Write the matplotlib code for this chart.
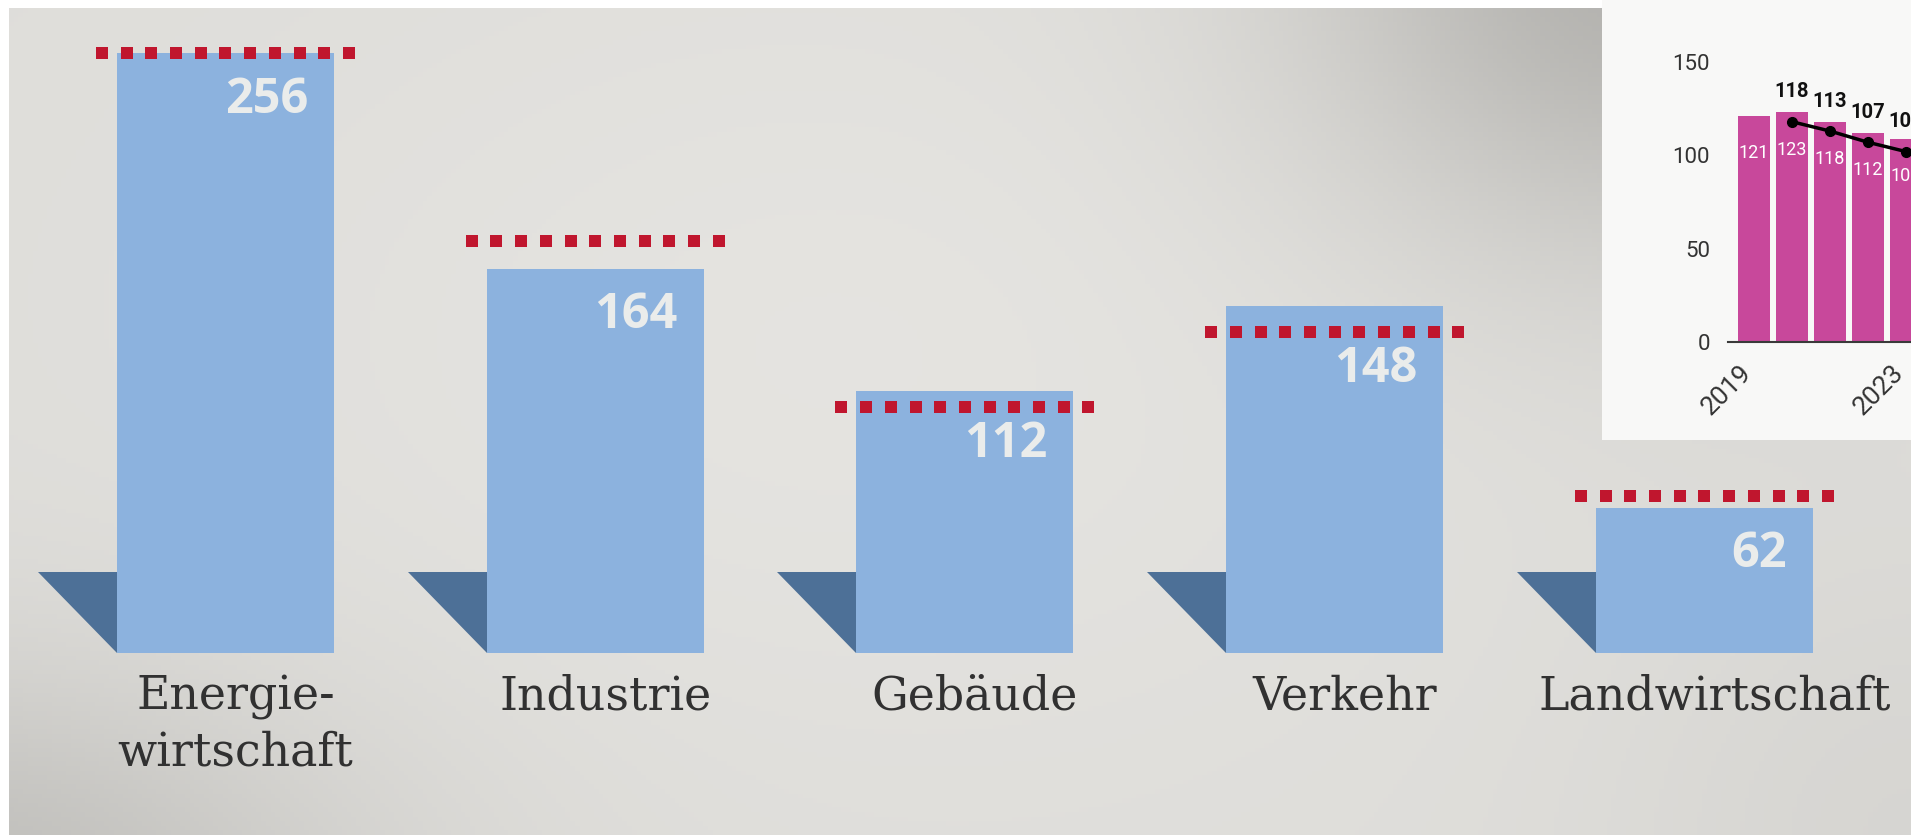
import numpy as np
import matplotlib
matplotlib.use("Agg")
import matplotlib.pyplot as plt
import matplotlib.transforms as mtransforms
from matplotlib.patches import Polygon, Rectangle

# ---- data -------------------------------------------------------------
sectors = ["Energie-\nwirtschaft", "Industrie", "Gebäude", "Verkehr", "Landwirtschaft"]
emissions = [256, 164, 112, 148, 62]          # Mio. t CO2-Äq.
targets = [256, 176, 105, 137, 67]            # zulässige Jahresemissionen

years = [2019, 2020, 2021, 2022, 2023]
building_actual = [121, 123, 118, 112, 109]
target_years = [2020, 2021, 2022, 2023]
building_target = [118, 113, 107, 102]
year_ticks = [2019, 2023]
inset_yticks = [0, 50, 100, 150]

# ---- figure geometry (pixels) ----------------------------------------
W, H, DPI = 1911, 835, 100
fig = plt.figure(figsize=(W / DPI, H / DPI), dpi=DPI, facecolor="white")

left_px, top_px = 9, 8
frame = [left_px / W, 0, 1 - left_px / W, (H - top_px) / H]

# soft grey paper background with darker corners
bg = fig.add_axes(frame, zorder=-1)
xx, yy = np.meshgrid(np.linspace(left_px, W, 400), np.linspace(top_px, H, 180))
v = 0.868 * np.ones_like(xx)
v += 0.025 * np.exp(-(((xx - 850) / 650) ** 2 + ((yy - 350) / 420) ** 2))
v -= 0.17 * np.exp(-(((xx - 1640) / 330) ** 2 + ((yy + 40) / 290) ** 2))
v -= 0.12 * np.exp(-(((xx + 60) / 420) ** 2 + ((yy - 900) / 230) ** 2))
v -= 0.03 * np.exp(-(((xx - 1911) / 300) ** 2 + ((yy - 835) / 300) ** 2))
rgb = np.dstack([v + 0.004, v, v - 0.014]).clip(0, 1)
bg.imshow(rgb, aspect="auto", extent=(0, 1, 0, 1), origin="upper")
bg.set_axis_off()

# ---- main bar chart --------------------------------------------------
ax = fig.add_axes(frame, zorder=0)
ax.set_facecolor("none")
ax.set_axis_off()

ppu = 600 / 256          # pixels per emission unit
spacing = 369.75         # pixels per category
first_center = 225.5
base_px = 653
ax.set_ylim(-(H - base_px) / ppu, (base_px - top_px) / ppu)
ax.set_xlim((left_px - first_center) / spacing, (W - first_center) / spacing)

x = np.arange(len(sectors))
bar_w = 217 / spacing
ax.bar(x, emissions, width=bar_w, color="#8cb2de", zorder=3)

shadow_w = 79 / spacing
shadow_h = 81 / ppu
for xi in x:
    lft = xi - bar_w / 2
    ax.add_patch(Polygon([(lft - shadow_w, shadow_h), (lft, shadow_h), (lft, 0)],
                         closed=True, facecolor="#4d7097", edgecolor="none", zorder=2))

offsets = np.linspace(-123.5, 123.5, 11) / spacing
for xi, t in zip(x, targets):
    ax.plot(xi + offsets, np.full(offsets.size, t), ls="none", marker="s",
            ms=8.2, mew=0, color="#c0162e", zorder=4)

for xi, val, t in zip(x, emissions, targets):
    yb = t - 21.5 if t < val else val - 25.5
    ax.text(xi + bar_w / 2 - 26 / spacing, yb, str(val), ha="right", va="baseline",
            fontsize=35, fontweight="bold", family="Open Sans", color="#eaeceb", zorder=5)

line_px = 55
for xi, lab in zip(x, sectors):
    n_lines = lab.count("\n")
    ax.text(xi + 10 / spacing, -(710 + n_lines * line_px - base_px) / ppu, lab,
            ha="center", va="baseline", fontsize=33, family="DejaVu Serif",
            color="#313131", linespacing=1.28, zorder=5)

# ---- inset: Gebäude sector over time ----------------------------------
box_left, box_bottom = 1602, 440
fig.add_artist(Rectangle((box_left / W, (H - box_bottom) / H), (W - box_left) / W,
                         box_bottom / H, transform=fig.transFigure,
                         facecolor="#f8f8f7", edgecolor="none", zorder=1))

ax_l, ax_b, ax_t = 1728, 342, 40
ipx = (342 - 62) / 150          # pixels per unit in inset
step = 38
c0 = 1754
ia = fig.add_axes([ax_l / W, (H - ax_b) / H, (W - ax_l) / W, (ax_b - ax_t) / H], zorder=2)
ia.set_facecolor("none")
ia.set_xlim(-(c0 - ax_l) / step, (W - c0) / step)
ia.set_ylim(0, (ax_b - ax_t) / ipx)

xi_years = np.array(years) - years[0]
xi_tgt = np.array(target_years) - years[0]
ia.bar(xi_years, building_actual, width=32 / step, color="#c8489b", zorder=2)
ia.plot(xi_tgt, building_target, color="black", lw=2.5, marker="o", ms=7, zorder=3)

narrow = ["Liberation Sans Narrow", "Roboto"]
for xv, val in zip(xi_years, building_actual):
    ia.text(xv, val - 20, str(val), ha="center", va="center", color="white",
            fontsize=13, family=narrow, zorder=4)
for xv, t in zip(xi_tgt, building_target):
    ia.text(xv, t + 16, str(t), ha="center", va="center", color="#111111",
            fontsize=14.5, fontweight="bold", family=narrow, zorder=4)

ia.set_yticks(inset_yticks)
ia.set_yticklabels([str(t) for t in inset_yticks])
ia.set_xticks(np.array(year_ticks) - years[0])
ia.set_xticklabels([str(y) for y in year_ticks], rotation=45, ha="right",
                   rotation_mode="anchor")
ia.tick_params(length=0, labelcolor="#333333")
ia.tick_params(axis="y", pad=13, labelsize=16)
ia.tick_params(axis="x", pad=12, labelsize=19)
shift = mtransforms.ScaledTranslation(-0.15, -0.02, fig.dpi_scale_trans)
for lab in ia.get_xticklabels():
    lab.set_transform(lab.get_transform() + shift)
for lab in ia.get_xticklabels() + ia.get_yticklabels():
    lab.set_family("Roboto")
for s in ("top", "right", "left"):
    ia.spines[s].set_visible(False)
ia.spines["bottom"].set_color("#3a3a3a")
ia.spines["bottom"].set_linewidth(1.5)

fig.savefig("out.png", dpi=DPI, facecolor="white")
